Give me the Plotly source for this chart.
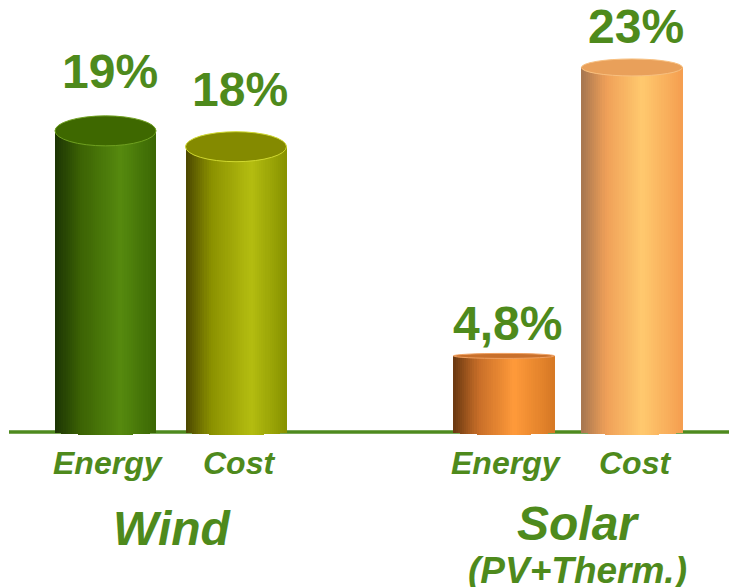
import plotly.graph_objects as go
import numpy as np

# ---------------- data ----------------
groups = ["Wind", "Wind", "Solar", "Solar"]
categories = ["Energy", "Cost", "Energy", "Cost"]
values = [19, 18, 4.8, 23]
value_labels = ["19%", "18%", "4,8%", "23%"]
group_names = ["Wind", "Solar"]
group_subtitles = ["", "(PV+Therm.)"]

# ---------------- layout / style ----------------
W, H = 729, 587
PX_PER_UNIT = 15.85          # vertical scale (px per %)
BASE_PX = 432                # pixel row of the zero line
x_pos = [0.0, 1.0, 3.053, 4.034]   # bar centre positions (x units)
X_UNIT_PX = 130.5
X0_PX = 105.5
bar_w = 0.774
group_label_x = [0.51, 3.62]

y_top = BASE_PX / PX_PER_UNIT
y_bot = -(H - BASE_PX) / PX_PER_UNIT
x_left = -X0_PX / X_UNIT_PX
x_right = (W - X0_PX) / X_UNIT_PX

green_text = "#4e8a1c"
line_green = "#4e8a1e"

# gradient stops (fraction across bar, colour) for each bar's side
side_stops = [
    [(0.0, "#1c3404"), (0.25, "#3b6204"), (0.65, "#568a0e"), (1.0, "#3a6604")],
    [(0.0, "#4a4600"), (0.25, "#8a9000"), (0.65, "#b4bd10"), (1.0, "#879200")],
    [(0.0, "#6a3810"), (0.25, "#c86e28"), (0.6, "#ff9a3a"), (1.0, "#d67824")],
    [(0.0, "#a67650"), (0.25, "#f0a058"), (0.6, "#ffc96e"), (1.0, "#f59e50")],
]
top_colors = ["#3e6800", "#848a00", "#c8702c", "#e9a05a"]
top_rim = ["#6fa020", "#d0d830", "#f0a060", "#f8c080"]
top_half_px = [15, 15, 2.5, 8.5]
bottom_half_px = 3.0
label_yshift = [31, 29, 4, 12]

def hex2rgb(h):
    h = h.lstrip("#")
    return np.array([int(h[i:i + 2], 16) for i in (0, 2, 4)], dtype=float)

def interp(stops, t):
    for (t0, c0), (t1, c1) in zip(stops[:-1], stops[1:]):
        if t <= t1:
            f = (t - t0) / (t1 - t0) if t1 > t0 else 0
            c = hex2rgb(c0) * (1 - f) + hex2rgb(c1) * f
            return "rgb(%d,%d,%d)" % tuple(np.round(c))
    c = hex2rgb(stops[-1][1])
    return "rgb(%d,%d,%d)" % tuple(c)

fig = go.Figure()

# baseline
fig.add_shape(type="line", xref="x", yref="y",
              x0=(9 - X0_PX) / X_UNIT_PX, x1=x_right, y0=0, y1=0,
              line=dict(color=line_green, width=3.5), layer="below")

# cylinder sides as vertical strips
N = 48
bot_units = bottom_half_px / PX_PER_UNIT
for i in range(N):
    t = (i + 0.5) / N
    u = 2 * t - 1
    base = [-bot_units * np.sqrt(max(0.0, 1 - u * u))] * len(values)
    ys = [v - b for v, b in zip(values, base)]
    cols = [interp(side_stops[k], t) for k in range(len(values))]
    fig.add_trace(go.Bar(
        x=x_pos, y=ys, base=base,
        width=[bar_w / N * 1.08] * len(values),
        offset=[-bar_w / 2 + i * bar_w / N] * len(values),
        marker=dict(color=cols, line=dict(width=0)),
        hoverinfo="skip", showlegend=False,
    ))

# top faces
for k, v in enumerate(values):
    e = top_half_px[k] / PX_PER_UNIT
    fig.add_shape(type="circle", xref="x", yref="y",
                  x0=x_pos[k] - bar_w / 2, x1=x_pos[k] + bar_w / 2,
                  y0=v - e, y1=v + e,
                  fillcolor=top_colors[k],
                  line=dict(color=top_rim[k], width=1), layer="above")

# value labels
for k, v in enumerate(values):
    fig.add_annotation(x=x_pos[k], y=v, text="<b>%s</b>" % value_labels[k],
                       showarrow=False, yanchor="bottom", xanchor="center",
                       yshift=label_yshift[k], xshift=4,
                       font=dict(family="Liberation Sans, Arial", size=48, color=green_text))

# category labels
for k, c in enumerate(categories):
    fig.add_annotation(x=x_pos[k], y=0, text="<b><i>%s</i></b>" % c,
                       showarrow=False, yanchor="top", xanchor="center",
                       yshift=-11, xshift=3,
                       font=dict(family="Liberation Sans, Arial", size=32, color=green_text))

# group labels
g_shift = [-68, -63]
for g, name in enumerate(group_names):
    fig.add_annotation(x=group_label_x[g], y=0, text="<b><i>%s</i></b>" % name,
                       showarrow=False, yanchor="top", xanchor="center",
                       yshift=g_shift[g],
                       font=dict(family="Liberation Sans, Arial", size=48, color=green_text))
    if group_subtitles[g]:
        fig.add_annotation(x=group_label_x[g], y=0, text="<b><i>%s</i></b>" % group_subtitles[g],
                           showarrow=False, yanchor="top", xanchor="center",
                           yshift=-116,
                           font=dict(family="Liberation Sans, Arial", size=37, color=green_text))

fig.update_layout(
    width=W, height=H,
    margin=dict(l=0, r=0, t=0, b=0, pad=0),
    paper_bgcolor="white", plot_bgcolor="white",
    barmode="overlay", bargap=0,
    xaxis=dict(range=[x_left, x_right], visible=False, fixedrange=True),
    yaxis=dict(range=[y_bot, y_top], visible=False, fixedrange=True),
    showlegend=False,
)

fig.write_html("out.html", config={"displayModeBar": False},
               post_script="document.body.style.margin='0';document.body.style.overflow='hidden';")
